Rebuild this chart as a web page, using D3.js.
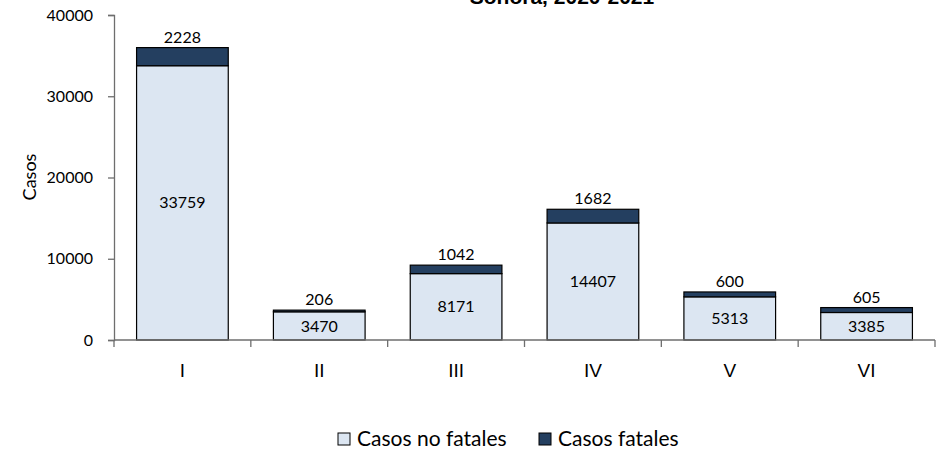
<!DOCTYPE html>
<html>
<head>
<meta charset="utf-8">
<script src="https://cdn.jsdelivr.net/npm/d3@7"></script>
<style>
  body { margin: 0; background: #fff; }
  svg { display: block; }
  .lbl { font-family: Lato, "Open Sans", sans-serif; font-size: 16px; fill: #000; }
  .tick text { font-family: Lato, "Open Sans", sans-serif; font-size: 16px; fill: #000; }
  .x.axis .tick text { font-family: "Liberation Sans Narrow", "Liberation Sans", Arial, sans-serif; font-size: 19px; }
</style>
</head>
<body>
<svg id="chart" width="943" height="451"></svg>
<script>
// regiones sanitarias
var regiones = ["I", "II", "III", "IV", "V", "VI"];
var noFatales = [33759, 3470, 8171, 14407, 5313, 3385];
var fatales = [2228, 206, 1042, 1682, 600, 605];
var yTicks = [0, 10000, 20000, 30000, 40000];
var series = ["Casos no fatales", "Casos fatales"];
var colores = ["#dce6f2", "#243f60"];

var svg = d3.select("#chart"),
    margin = {top: 15, right: 8, bottom: 111, left: 114},
    width = +svg.attr("width") - margin.left - margin.right,
    height = +svg.attr("height") - margin.top - margin.bottom;

var data = regiones.map(function(r, i) {
  return {name: r, nf: noFatales[i], f: fatales[i]};
});

var x = d3.scaleBand()
    .domain(regiones)
    .range([0, width])
    .paddingInner(0.33)
    .paddingOuter(0.165);

var y = d3.scaleLinear()
    .domain([0, 40000])
    .range([height, 0]);

var g = svg.append("g")
    .attr("transform", "translate(" + margin.left + "," + margin.top + ")");

// titulo (cortado arriba como en el original)
svg.append("text")
    .attr("x", 562)
    .attr("y", 4)
    .attr("text-anchor", "middle")
    .style("font-family", "Liberation Sans, Arial, sans-serif")
    .style("font-weight", "bold")
    .style("font-size", "21px")
    .text("Sonora, 2020-2021");

var stack = d3.stack().keys(["nf", "f"]);
var stacked = stack(data);

g.selectAll("g.serie")
  .data(stacked)
  .join("g")
    .attr("class", "serie")
    .attr("fill", function(d, i) { return colores[i]; })
  .selectAll("rect")
  .data(function(d) { return d; })
  .join("rect")
    .attr("x", function(d) { return x(d.data.name); })
    .attr("y", function(d) { return y(d[1]); })
    .attr("height", function(d) { return y(d[0]) - y(d[1]); })
    .attr("width", x.bandwidth())
    .attr("stroke", "#000")
    .attr("stroke-width", 1.2);

// etiquetas casos no fatales (centro del segmento)
g.selectAll("text.nf")
  .data(data)
  .join("text")
    .attr("class", "lbl nf")
    .attr("x", function(d) { return x(d.name) + x.bandwidth() / 2; })
    .attr("y", function(d) { return y(d.nf / 2); })
    .attr("dy", "0.35em")
    .attr("text-anchor", "middle")
    .text(function(d) { return d.nf; });

// etiquetas casos fatales (arriba de la barra)
g.selectAll("text.f")
  .data(data)
  .join("text")
    .attr("class", "lbl f")
    .attr("x", function(d) { return x(d.name) + x.bandwidth() / 2; })
    .attr("y", function(d) { return y(d.nf + d.f) - 5; })
    .attr("text-anchor", "middle")
    .text(function(d) { return d.f; });

// eje x con marcas entre categorias
var xAxis = g.append("g")
    .attr("class", "x axis")
    .attr("transform", "translate(0," + height + ")");

xAxis.append("line")
    .attr("x1", 0).attr("x2", width)
    .attr("stroke", "#6e6e6e").attr("stroke-width", 1.3);

var cortes = d3.range(regiones.length + 1).map(function(i) {
  return i * x.step();
});
xAxis.selectAll("line.corte")
  .data(cortes)
  .join("line")
    .attr("class", "corte")
    .attr("x1", function(d) { return d; })
    .attr("x2", function(d) { return d; })
    .attr("y1", 0).attr("y2", 7)
    .attr("stroke", "#6e6e6e").attr("stroke-width", 1.3);

xAxis.selectAll("g.tick")
  .data(regiones)
  .join("g")
    .attr("class", "tick")
    .attr("transform", function(d) { return "translate(" + (x(d) + x.bandwidth() / 2) + ",0)"; })
  .append("text")
    .attr("y", 37)
    .attr("text-anchor", "middle")
    .text(function(d) { return d; });

// eje y
var yAxis = g.append("g")
    .attr("class", "y axis")
    .call(d3.axisLeft(y).tickValues(yTicks).tickSize(6).tickPadding(15).tickFormat(d3.format("d")));
yAxis.select(".domain").attr("stroke", "#6e6e6e").attr("stroke-width", 1.3);
yAxis.selectAll(".tick line").attr("stroke", "#6e6e6e").attr("stroke-width", 1.3);

svg.append("text")
    .attr("class", "lbl")
    .attr("transform", "translate(36,177) rotate(-90)")
    .attr("text-anchor", "middle")
    .style("font-size", "18px")
    .text("Casos");

// leyenda
var legX = [338, 539];
var leg = svg.selectAll("g.leg")
  .data(series)
  .join("g")
    .attr("class", "leg")
    .attr("transform", function(d, i) { return "translate(" + legX[i] + ",433)"; });
leg.append("rect")
    .attr("width", 12).attr("height", 12)
    .attr("fill", function(d, i) { return colores[i]; })
    .attr("stroke", "#000").attr("stroke-width", 1);
leg.append("text")
    .attr("x", 19).attr("y", 13)
    .style("font-family", "Lato, 'Open Sans', sans-serif")
    .style("font-size", "21px")
    .text(function(d) { return d; });
</script>
</body>
</html>
